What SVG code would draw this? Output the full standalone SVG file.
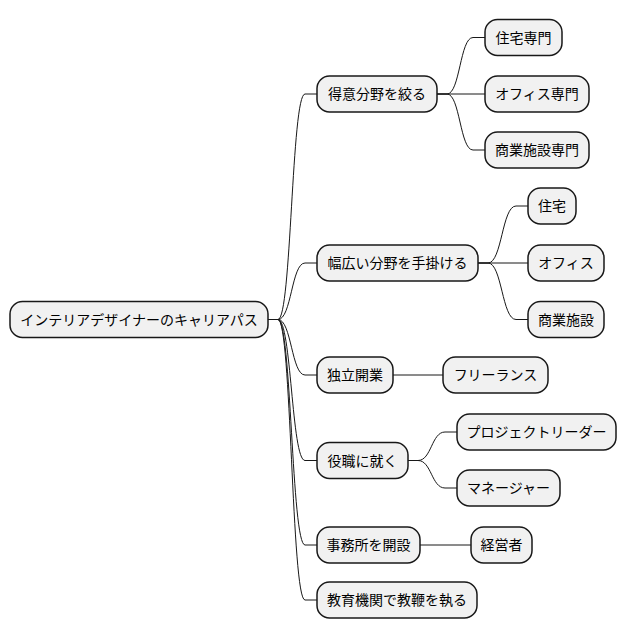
<svg xmlns="http://www.w3.org/2000/svg" width="628" height="640" viewBox="0 0 628 640">
<style>
.n rect{fill:#F1F1F1;stroke:#181818;stroke-width:1.5}
.n text{font-family:"Noto Sans CJK JP","Noto Sans",sans-serif;font-size:14px;fill:#000;text-anchor:middle}
#edges path{fill:none;stroke:#181818;stroke-width:1}
</style>
<rect width="628" height="640" fill="#FFFFFF"/>
<g id="edges">
<path d="M268,319.5 H278 C291.5,319.5 291.5,94 305,94 H317"/>
<path d="M268,319.5 H278 C291.5,319.5 291.5,263 305,263 H317"/>
<path d="M268,319.5 H278 C291.5,319.5 291.5,375 305,375 H317"/>
<path d="M268,319.5 H278 C291.5,319.5 291.5,460.5 305,460.5 H317"/>
<path d="M268,319.5 H278 C291.5,319.5 291.5,545 305,545 H317"/>
<path d="M268,319.5 H278 C291.5,319.5 291.5,600 305,600 H317"/>
<path d="M437,94 H447 C460,94 460,37.5 473,37.5 H485"/>
<path d="M437,94 H485"/>
<path d="M437,94 H447 C460,94 460,150 473,150 H485"/>
<path d="M478,263 H488 C502,263 502,206 516,206 H528"/>
<path d="M478,263 H528"/>
<path d="M478,263 H488 C502,263 502,319.5 516,319.5 H528"/>
<path d="M393,375 H443"/>
<path d="M408,460.5 H418 C431.5,460.5 431.5,432 445,432 H457"/>
<path d="M408,460.5 H418 C431.5,460.5 431.5,488 445,488 H457"/>
<path d="M420,545 H471"/>
</g>
<g id="root" class="n"><rect x="10" y="301.5" width="258" height="36" rx="12.5"/><text x="139" y="324.5">インテリアデザイナーのキャリアパス</text></g>
<g id="a" class="n"><rect x="317" y="76" width="120" height="36" rx="12.5"/><text x="377" y="99">得意分野を絞る</text></g>
<g id="a1" class="n"><rect x="485" y="19.5" width="77" height="36" rx="12.5"/><text x="523.5" y="42.5">住宅専門</text></g>
<g id="a2" class="n"><rect x="485" y="76" width="104" height="36" rx="12.5"/><text x="537" y="99">オフィス専門</text></g>
<g id="a3" class="n"><rect x="485" y="132" width="104" height="36" rx="12.5"/><text x="537" y="155">商業施設専門</text></g>
<g id="b" class="n"><rect x="317" y="245" width="161" height="36" rx="12.5"/><text x="397.5" y="268">幅広い分野を手掛ける</text></g>
<g id="b1" class="n"><rect x="528" y="188" width="48" height="36" rx="12.5"/><text x="552" y="211">住宅</text></g>
<g id="b2" class="n"><rect x="528" y="245" width="76" height="36" rx="12.5"/><text x="566" y="268">オフィス</text></g>
<g id="b3" class="n"><rect x="528" y="301.5" width="76" height="36" rx="12.5"/><text x="566" y="324.5">商業施設</text></g>
<g id="c" class="n"><rect x="317" y="357" width="76" height="36" rx="12.5"/><text x="355" y="380">独立開業</text></g>
<g id="c1" class="n"><rect x="443" y="357" width="105" height="36" rx="12.5"/><text x="495.5" y="380">フリーランス</text></g>
<g id="d" class="n"><rect x="317" y="442.5" width="91" height="36" rx="12.5"/><text x="362.5" y="465.5">役職に就く</text></g>
<g id="d1" class="n"><rect x="457" y="414" width="159" height="36" rx="12.5"/><text x="536.5" y="437">プロジェクトリーダー</text></g>
<g id="d2" class="n"><rect x="457" y="470" width="103" height="36" rx="12.5"/><text x="508.5" y="493">マネージャー</text></g>
<g id="e" class="n"><rect x="317" y="527" width="103" height="36" rx="12.5"/><text x="368.5" y="550">事務所を開設</text></g>
<g id="e1" class="n"><rect x="471" y="527" width="61" height="36" rx="12.5"/><text x="501.5" y="550">経営者</text></g>
<g id="f" class="n"><rect x="317" y="582" width="160" height="36" rx="12.5"/><text x="397" y="605">教育機関で教鞭を執る</text></g>
</svg>
